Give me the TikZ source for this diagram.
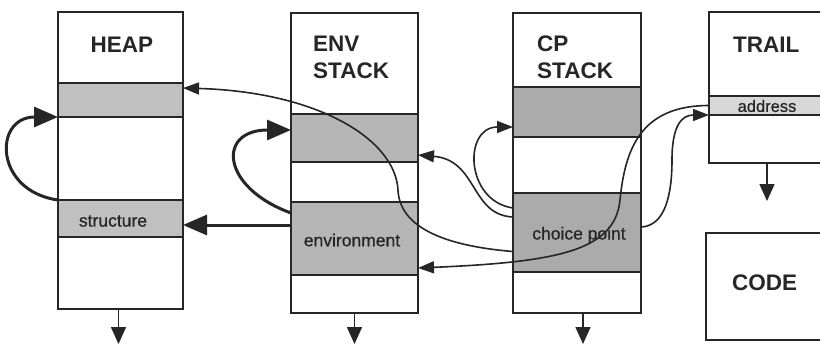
\documentclass[tikz,border=0pt]{standalone}
\usepackage{fontspec}
\setmainfont{Liberation Sans}
\newfontface\lblface[FakeBold=0.7]{Liberation Sans}
\usetikzlibrary{arrows.meta,calc}

\definecolor{ink}{HTML}{262626}
\definecolor{shadeheap}{HTML}{C0C0C0}
\definecolor{shade}{HTML}{B6B6B6}
\definecolor{shadecp}{HTML}{ABABAB}
\definecolor{shadelight}{HTML}{D8D8D8}

\tikzset{
  cell/.style={draw=ink, line width=1.8pt, inner sep=0pt, outer sep=0pt,
               anchor=north west, fill=white},
  greyheap/.style={cell, fill=shadeheap},
  grey/.style={cell, fill=shade},
  greycp/.style={cell, fill=shadecp},
  greylight/.style={cell, fill=shadelight},
  hdr/.style={inner sep=0pt, text=ink, font=\fontsize{22.5}{27.5}\selectfont\bfseries},
  lbl/.style={inner sep=0pt, text=ink, font=\fontsize{17.5}{20}\lblface},
  link/.style={draw=ink, line width=1.6pt, -{Triangle[length=16pt,width=12pt]}},
  heavy/.style={draw=ink, line width=3pt, -{Triangle[length=24pt,width=20pt]}},
  growth/.style={draw=ink, line width=1.6pt, -{Triangle[length=17pt,width=15pt]}},
}

\begin{document}
\begin{tikzpicture}[x=1pt,y=-1pt]
\useasboundingbox (0,0) rectangle (820,346);
\fill[white] (0,0) rectangle (820,346);
\clip (0,0) rectangle (820,346);

% ---- HEAP ----
\node[cell,     minimum width=125pt, minimum height=71pt] (heapH)  at (58,12)  {};
\node[greyheap, minimum width=125pt, minimum height=34pt] (heapG1) at (58,83)  {};
\node[cell,     minimum width=125pt, minimum height=83pt] (heapW1) at (58,117) {};
\node[greyheap, minimum width=125pt, minimum height=37pt] (heapS)  at (58,200) {};
\node[cell,     minimum width=125pt, minimum height=72pt] (heapW2) at (58,237) {};
\node[hdr, anchor=base] (heapT) at (122,52.5) {HEAP};
\node[lbl] (heapL) at (113,221) {structure};

% ---- ENV STACK ----
\node[cell, minimum width=127pt, minimum height=101pt] (envH)  at (291,13)  {};
\node[grey, minimum width=127pt, minimum height=48pt]  (envG1) at (291,114) {};
\node[cell, minimum width=127pt, minimum height=40pt]  (envW1) at (291,162) {};
\node[grey, minimum width=127pt, minimum height=73pt]  (envE)  at (291,202) {};
\node[cell, minimum width=127pt, minimum height=38pt]  (envW2) at (291,275) {};
\node[hdr, anchor=north west, align=left] (envT) at (313,35.5) {ENV\\STACK};
\node[lbl] (envL) at (352,240) {environment};

% ---- CP STACK ----
\node[cell,   minimum width=128pt, minimum height=74pt] (cpH)  at (513,13)  {};
\node[greycp, minimum width=128pt, minimum height=50pt] (cpG1) at (513,87)  {};
\node[cell,   minimum width=128pt, minimum height=56pt] (cpW1) at (513,137) {};
\node[greycp, minimum width=128pt, minimum height=79pt] (cpC)  at (513,193) {};
\node[cell,   minimum width=128pt, minimum height=41pt] (cpW2) at (513,272) {};
\node[hdr, anchor=north west, align=left] (cpT) at (537,35.5) {CP\\STACK};
\node[lbl] (cpL) at (579,235) {choice point};

% ---- TRAIL ----
\node[cell,      minimum width=118pt, minimum height=84pt] (trH) at (709,12)  {};
\node[greylight, minimum width=118pt, minimum height=19pt] (trA) at (709,96)  {};
\node[cell,      minimum width=118pt, minimum height=48pt] (trW) at (709,115) {};
\node[hdr, anchor=base west] (trT) at (733,52.5) {TRAIL};
\node[lbl, font=\fontsize{16.5}{19}\lblface] (trL) at (767,106) {address};

% ---- CODE ----
\node[cell, minimum width=120pt, minimum height=107pt] (code) at (706,233) {};
\node[hdr, anchor=base west] (codeT) at (732,290.5) {CODE};

% ---- growth directions ----
\coordinate (heapEnd) at ($(heapW2.south)+(-2,35)$);
\coordinate (envEnd)  at ($(envW2.south)+(0,31)$);
\coordinate (cpEnd)   at ($(cpW2.south)+(6,31)$);
\coordinate (trEnd)   at ($(trW.south)+(-1,38)$);
\draw[growth] (heapW2.south -| heapEnd) -- (heapEnd);
\draw[growth] (envW2.south -| envEnd) -- (envEnd);
\draw[growth] (cpW2.south -| cpEnd) -- (cpEnd);
\draw[growth] (trW.south -| trEnd) -- (trEnd);

% ---- heavy pointers ----
\draw[heavy] (heapS.north west) to[out=172,in=180,looseness=2] (heapG1.south west);
\draw[heavy] ([yshift=25.5pt]envE.west) to[out=160,in=180,looseness=2.3] ([yshift=8pt]envG1.west);
\coordinate (hsR) at ([yshift=-6.5pt]heapS.east);
\draw[heavy] (hsR -| envE.west) -- (hsR);

% ---- choice point links ----
\draw[link] ([yshift=-19pt]cpC.west)
  .. controls +(-73,-6) and +(2,35) .. ++(-115,-61)
  .. controls +(-2,-50) and +(137,4) .. ([yshift=12pt]heapG1.east);
\draw[link] ([yshift=15.5pt]cpC.west)
  .. controls +(-43,-2) and +(60,5) .. ([yshift=-17pt]envG1.east);
\draw[link] ([yshift=24.5pt]cpC.west)
  .. controls +(-48,-7) and +(-50,0) .. ([yshift=-15pt]cpG1.west);
\draw[link] (trA.west)
  .. controls +(-69,0) and +(5,-50) .. ++(-89,94.5)
  .. controls +(-5,50) and +(142,-6) .. ([yshift=-29.5pt]envE.east);
\draw[link] ([yshift=5.5pt]cpC.east)
  .. controls +(24,-1) and +(0,35) .. ++(31,-67)
  .. controls +(0,-35) and +(-27,0) .. (trA.south west);
\end{tikzpicture}
\end{document}
